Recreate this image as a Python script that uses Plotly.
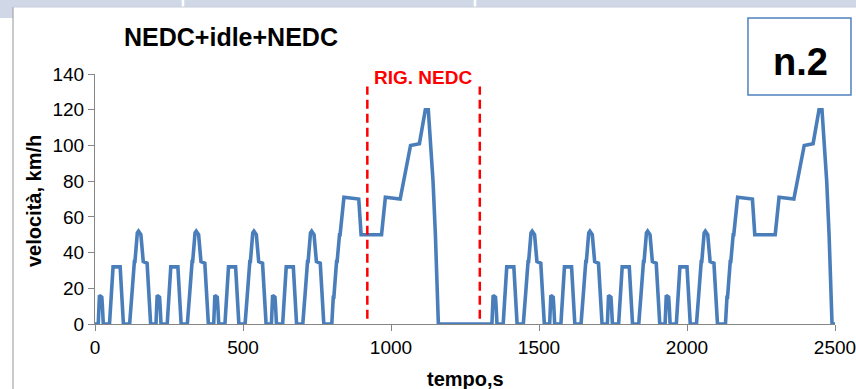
import plotly.graph_objects as go

# ECE-15 urban cycle breakpoints (s, km/h)
ece_t = [0, 11, 15, 23, 25, 28, 49, 54, 56, 61, 85, 93, 96, 117, 122, 124, 133, 135, 143, 147, 155, 163, 176, 186, 188, 195]
ece_v = [0, 0, 16, 15, 10, 0, 0, 15, 15, 32, 32, 10, 0, 0, 15, 15, 35, 35, 51, 52, 50, 35, 34, 10, 0, 0]

# Extra-urban (EUDC) segment breakpoints (s, km/h)
eudc_t = [0, 20, 25, 27, 36, 38, 46, 48, 61, 111, 119, 188, 201, 251, 286, 316, 336, 346, 362, 370, 380, 400]
eudc_v = [0, 0, 15, 15, 35, 35, 50, 50, 71, 70, 50, 50, 71, 70, 100, 101, 120, 120, 80, 50, 0, 0]

# Start time of each NEDC in the test (idle in between)
nedc_starts = [0, 1330]
ece_repeats = 4
ece_length = 195

# Regeneration window (s) and its marker extent (km/h)
regen_t = [920, 1300]
regen_v = [3, 133]

x_ticks = [0, 500, 1000, 1500, 2000, 2500]
y_ticks = [0, 20, 40, 60, 80, 100, 120, 140]

# Assemble the speed trace from the cycle phases
time, speed = [], []
for s in nedc_starts:
    for k in range(ece_repeats):
        off = s + k * ece_length
        time += [off + t for t in ece_t]
        speed += ece_v
    off = s + ece_repeats * ece_length
    time += [off + t for t in eudc_t]
    speed += eudc_v

FONT = "Liberation Sans"
BLUE = "#4a7ebb"
AXIS = "#868686"

fig = go.Figure()
fig.add_trace(go.Scatter(x=time, y=speed, mode="lines",
                         line=dict(color=BLUE, width=3.6), showlegend=False,
                         hoverinfo="skip"))

# dashed regeneration markers
for t in regen_t:
    fig.add_shape(type="line", xref="x", yref="y", x0=t, x1=t,
                  y0=regen_v[0], y1=regen_v[1],
                  line=dict(color="#ff0000", width=2.5, dash="9px,5px"))

fig.update_layout(
    width=856, height=389,
    margin=dict(l=95, r=21, t=74, b=65, autoexpand=False),
    paper_bgcolor="white", plot_bgcolor="white",
    font=dict(family=FONT, color="#000000"),
    xaxis=dict(range=[0, 2500], tickvals=x_ticks, showgrid=False, zeroline=False,
               showline=True, linecolor=AXIS, linewidth=1,
               ticks="outside", tickcolor=AXIS, ticklen=6,
               ticklabeloverflow="allow", automargin=False,
               tickfont=dict(size=19, family=FONT, color="#000000")),
    yaxis=dict(range=[0, 140], tickvals=y_ticks, showgrid=False, zeroline=False,
               showline=True, linecolor=AXIS, linewidth=1,
               ticks="outside", tickcolor=AXIS, ticklen=6, automargin=False,
               tickfont=dict(size=19, family=FONT, color="#000000")),
)

# slide header band and frame
band = "#d0d8e8"
shapes = [
    dict(type="rect", xref="paper", yref="paper", x0=-0.1284, x1=1.0284, y0=1.268, y1=1.296,
         fillcolor=band, line=dict(width=0), layer="below"),
    dict(type="rect", xref="paper", yref="paper", x0=-0.1284, x1=-0.1108, y0=1.224, y1=1.296,
         fillcolor=band, line=dict(width=0), layer="below"),
    dict(type="line", xref="paper", yref="paper", x0=0.1189, x1=0.1189, y0=1.268, y1=1.296,
         line=dict(color="white", width=2.5)),
    dict(type="line", xref="paper", yref="paper", x0=0.5135, x1=0.5135, y0=1.268, y1=1.296,
         line=dict(color="white", width=2.5)),
    dict(type="line", xref="paper", yref="paper", x0=-0.1108, x1=-0.1108, y0=1.268, y1=-0.26,
         line=dict(color="#a6a6a6", width=1.2)),
    dict(type="line", xref="paper", yref="paper", x0=-0.1108, x1=1.0284, y0=1.268, y1=1.268,
         line=dict(color="#c8cedb", width=1)),
    dict(type="rect", xref="paper", yref="paper", x0=0.8824, x1=1.0216, y0=0.916, y1=1.224,
         fillcolor="white", line=dict(color="#4f81bd", width=1.5)),
]
for sh in shapes:
    fig.add_shape(**sh)

fig.add_annotation(text="<b>NEDC+idle+NEDC</b>", xref="paper", yref="paper",
                   x=0.1838, y=1.148, showarrow=False, xanchor="center", yanchor="middle",
                   font=dict(size=25, family=FONT, color="#000000"))
fig.add_annotation(text="<b>n.2</b>", xref="paper", yref="paper",
                   x=0.954, y=1.048, showarrow=False, xanchor="center", yanchor="middle",
                   font=dict(size=38, family=FONT, color="#000000"))
fig.add_annotation(text="<b>RIG. NEDC</b>", xref="paper", yref="paper",
                   x=0.443, y=0.988, showarrow=False, xanchor="center", yanchor="middle",
                   font=dict(size=19, family=FONT, color="#ff0000"))
fig.add_annotation(text="<b>velocità, km/h</b>", xref="paper", yref="paper",
                   x=-0.0824, y=0.492, showarrow=False, textangle=-90,
                   xanchor="center", yanchor="middle",
                   font=dict(size=20, family=FONT, color="#000000"))
fig.add_annotation(text="<b>tempo,s</b>", xref="paper", yref="paper",
                   x=0.5, y=-0.22, showarrow=False, xanchor="center", yanchor="middle",
                   font=dict(size=20, family=FONT, color="#000000"))

fig.write_html("out.html")
